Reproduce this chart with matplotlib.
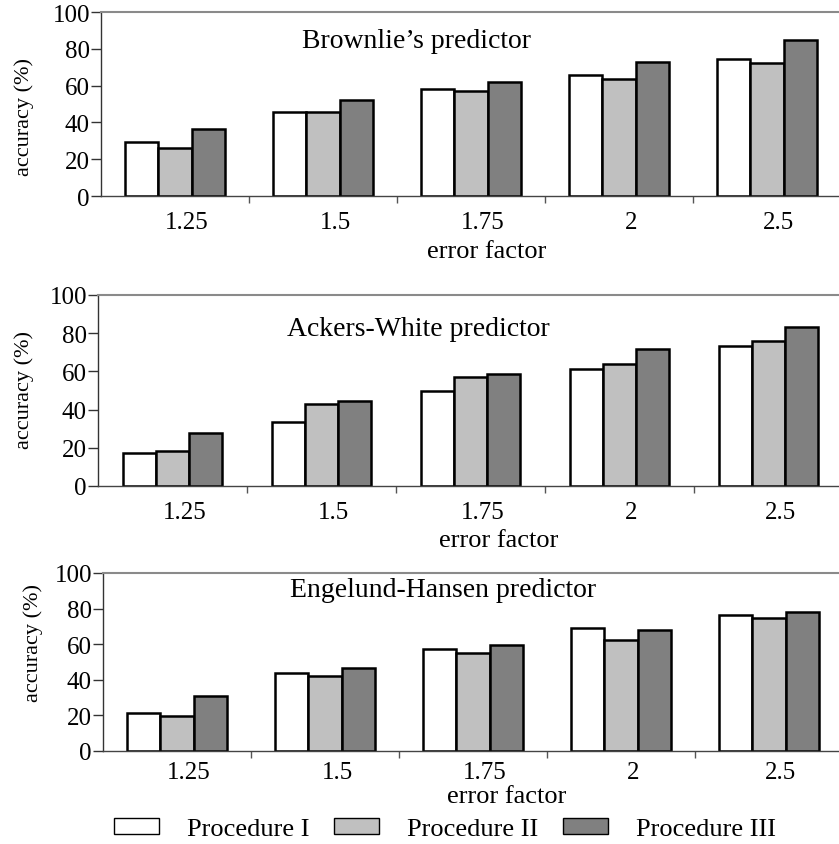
import matplotlib
matplotlib.use("Agg")
import matplotlib.pyplot as plt
import matplotlib.transforms as mtransforms
from matplotlib.patches import Patch
import numpy as np

plt.rcParams['font.family'] = ['Liberation Serif', 'DejaVu Serif']

# Data
error_factors = ["1.25", "1.5", "1.75", "2", "2.5"]
procedures = ["Procedure I", "Procedure II", "Procedure III"]
predictors = ["Brownlie\u2019s predictor", "Ackers-White predictor", "Engelund-Hansen predictor"]

brownlie = {
    "Procedure I":   [29.2, 45.8, 58.2, 65.9, 74.3],
    "Procedure II":  [25.9, 45.8, 57.1, 63.4, 72.4],
    "Procedure III": [36.4, 52.3, 61.8, 73.0, 84.8],
}
ackers_white = {
    "Procedure I":   [17.5, 33.4, 49.9, 61.3, 73.1],
    "Procedure II":  [18.2, 43.1, 57.3, 64.1, 76.1],
    "Procedure III": [28.0, 44.5, 58.6, 71.6, 83.5],
}
engelund_hansen = {
    "Procedure I":   [21.6, 44.1, 57.1, 69.0, 76.4],
    "Procedure II":  [19.7, 42.2, 54.8, 62.5, 74.7],
    "Procedure III": [30.8, 46.9, 59.7, 67.9, 78.1],
}
panels = [brownlie, ackers_white, engelund_hansen]

colors = ["#ffffff", "#c0c0c0", "#808080"]

W, H = 839, 845
fig = plt.figure(figsize=(W / 100, H / 100), dpi=100)

def fx(px):
    return px / W

def fy(py):
    return 1 - py / H

# axes boxes in pixels: left, right, top (y=100), bottom (y=0)
boxes = [(101, 841, 13, 197), (98, 843, 296, 487), (103, 843, 574, 752)]
title_pos = [(416, 42), (418, 330), (443, 591)]
xlabel_pos = [(487, 252), (499, 541), (507, 797)]
ylabel_pos = [(24, 117), (24, 390), (33, 643)]
ticklabel_drop = [11, 11, 7]

fs = 18
bar_w = 0.223
x = np.arange(len(error_factors)) + 0.5

for i, data in enumerate(panels):
    l, r, t, b = boxes[i]
    ax = fig.add_axes([fx(l), fy(b), fx(r - l), (b - t) / H])
    for j, proc in enumerate(procedures):
        ax.bar(x + (j - 1) * bar_w, data[proc], width=bar_w, color=colors[j],
               edgecolor="black", linewidth=1.8, zorder=3)
    ax.set_xlim(0, len(error_factors))
    ax.set_ylim(0, 100)
    ax.set_yticks(np.arange(0, 101, 20))
    ax.set_xticks(x)
    ax.set_xticklabels(error_factors)
    ax.set_xticks(np.arange(1, len(error_factors)), minor=True)
    ax.tick_params(axis="x", which="major", length=0, labelsize=fs, pad=ticklabel_drop[i])
    ax.tick_params(axis="x", which="minor", length=5, width=1, color="#555555", direction="out")
    ax.tick_params(axis="y", length=7, width=1, color="#333333", labelsize=fs, pad=1)
    offset = mtransforms.ScaledTranslation(12 / 100, 0, fig.dpi_scale_trans)
    for lab in ax.get_xticklabels():
        lab.set_transform(lab.get_transform() + offset)
    ax.spines["right"].set_visible(False)
    ax.spines["top"].set_color("#8a8a8a")
    ax.spines["top"].set_linewidth(1.5)
    ax.spines["left"].set_color("#333333")
    ax.spines["left"].set_linewidth(1.0)
    ax.spines["bottom"].set_color("#444444")
    ax.spines["bottom"].set_linewidth(1.0)
    ax.spines["bottom"].set_zorder(4)

    tx, ty = title_pos[i]
    fig.text(fx(tx), fy(ty), predictors[i], ha="center", va="center", fontsize=20)
    ex, ey = xlabel_pos[i]
    fig.text(fx(ex), fy(ey), "error factor", ha="center", va="center", fontsize=19)
    yx, yy = ylabel_pos[i]
    fig.text(fx(yx), fy(yy), "accuracy (%)", ha="center", va="center", rotation=90, fontsize=16)

handles = [Patch(facecolor=c, edgecolor="black", linewidth=1.0) for c in colors]
fig.legend(handles, procedures, loc="center", bbox_to_anchor=(fx(445), fy(830)),
           ncol=3, frameon=False, fontsize=19, handlelength=1.7, handleheight=0.6,
           handletextpad=1.05, columnspacing=0.95, borderpad=0)

fig.savefig("out.png", dpi=100)
